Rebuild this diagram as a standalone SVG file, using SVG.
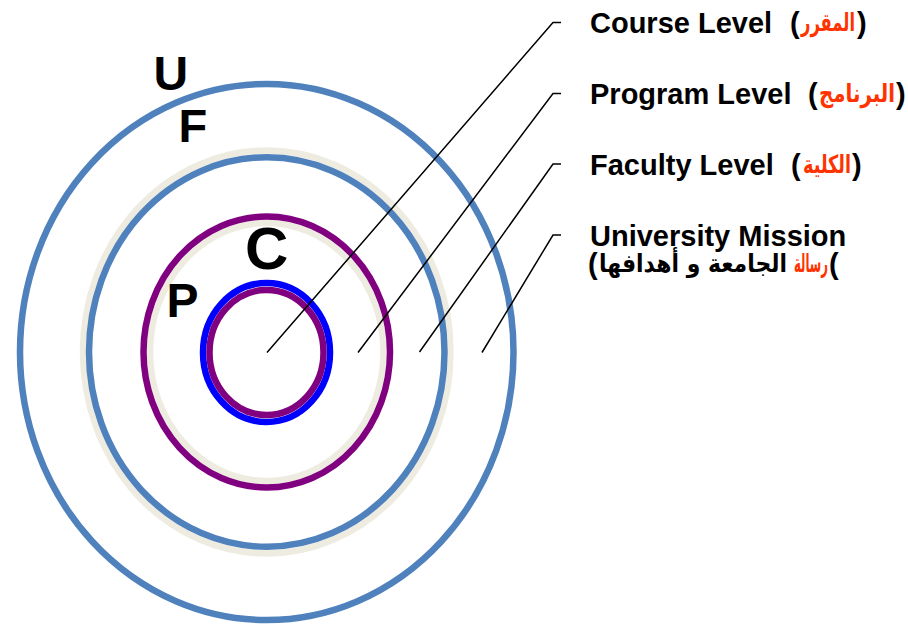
<svg xmlns="http://www.w3.org/2000/svg" width="908" height="625" viewBox="0 0 908 625">
<style>
.ring{fill:none;stroke-width:6.5}
.blue{stroke:#4F81BD}
.beige{stroke:#EEECE1}
.purple{stroke:#800080}
.pure{stroke:#0000FF}
.lbl{font-family:"Liberation Sans",Arial,sans-serif;font-weight:bold;fill:#000}
.en{font-family:"Liberation Sans",Arial,sans-serif;font-weight:bold;font-size:29px;fill:#000}
.ar{font-family:"DejaVu Sans",sans-serif;font-weight:bold;font-size:25px}
.red{fill:#FF3300}
.blk{fill:#000}
.conn{fill:none;stroke:#000;stroke-width:1.5}
</style>
<rect width="908" height="625" fill="#fff"/>
<g id="university">
<ellipse class="ring blue" cx="266.75" cy="352" rx="246.75" ry="268" stroke-width="6"/>
<text class="lbl" x="153.5" y="90" font-size="48">U</text>
</g>
<g id="faculty">
<ellipse class="ring beige" cx="266.75" cy="352" rx="183.75" ry="201.5"/>
<ellipse class="ring blue" cx="266.75" cy="352" rx="177.75" ry="194.75"/>
<text class="lbl" x="178.5" y="142" font-size="47">F</text>
</g>
<g id="program">
<ellipse class="ring beige" cx="266.75" cy="352" rx="116.75" ry="129"/>
<ellipse class="ring purple" cx="266.75" cy="352" rx="123.25" ry="135.5"/>
<text class="lbl" x="166.5" y="317" font-size="48">P</text>
</g>
<g id="course">
<ellipse class="ring pure" cx="266.5" cy="352.5" rx="63.5" ry="69.5"/>
<ellipse class="ring purple" cx="266.5" cy="352.5" rx="57" ry="62.5"/>
<text class="lbl" x="245" y="269" font-size="60">C</text>
</g>
<g id="connectors">
<polyline class="conn" points="267,352.5 553,22.5 561,22.5"/>
<polyline class="conn" points="358,352.5 553,93.5 561,93.5"/>
<polyline class="conn" points="419.5,352 553,164 561,164"/>
<polyline class="conn" points="482,352.5 553,235 561,235"/>
</g>
<g id="label-course">
<text class="en" x="590" y="33">Course Level</text>
<text class="en" x="790" y="33">(</text>
<text class="ar red" x="801" y="31" textLength="54" lengthAdjust="spacingAndGlyphs">المقرر</text>
<text class="en" x="857" y="33">)</text>
</g>
<g id="label-program">
<text class="en" x="590" y="104">Program Level</text>
<text class="en" x="808" y="104">(</text>
<text class="ar red" x="819" y="102" textLength="76" lengthAdjust="spacingAndGlyphs">البرنامج</text>
<text class="en" x="896" y="104">)</text>
</g>
<g id="label-faculty">
<text class="en" x="590" y="174.5">Faculty Level</text>
<text class="en" x="791" y="174.5">(</text>
<text class="ar red" x="803" y="172.5" textLength="48" lengthAdjust="spacingAndGlyphs">الكلية</text>
<text class="en" x="852" y="174.5">)</text>
</g>
<g id="label-university">
<text class="en" x="588" y="274" font-size="26">(</text>
<text class="ar blk" x="599" y="272" textLength="188" lengthAdjust="spacingAndGlyphs">الجامعة و أهدافها</text>
<text class="ar red" x="794" y="272" textLength="34" lengthAdjust="spacingAndGlyphs">رسالة</text>
<text class="en" x="829" y="274" font-size="26">(</text>
<text class="en" x="590" y="246">University Mission</text>
</g>
</svg>
